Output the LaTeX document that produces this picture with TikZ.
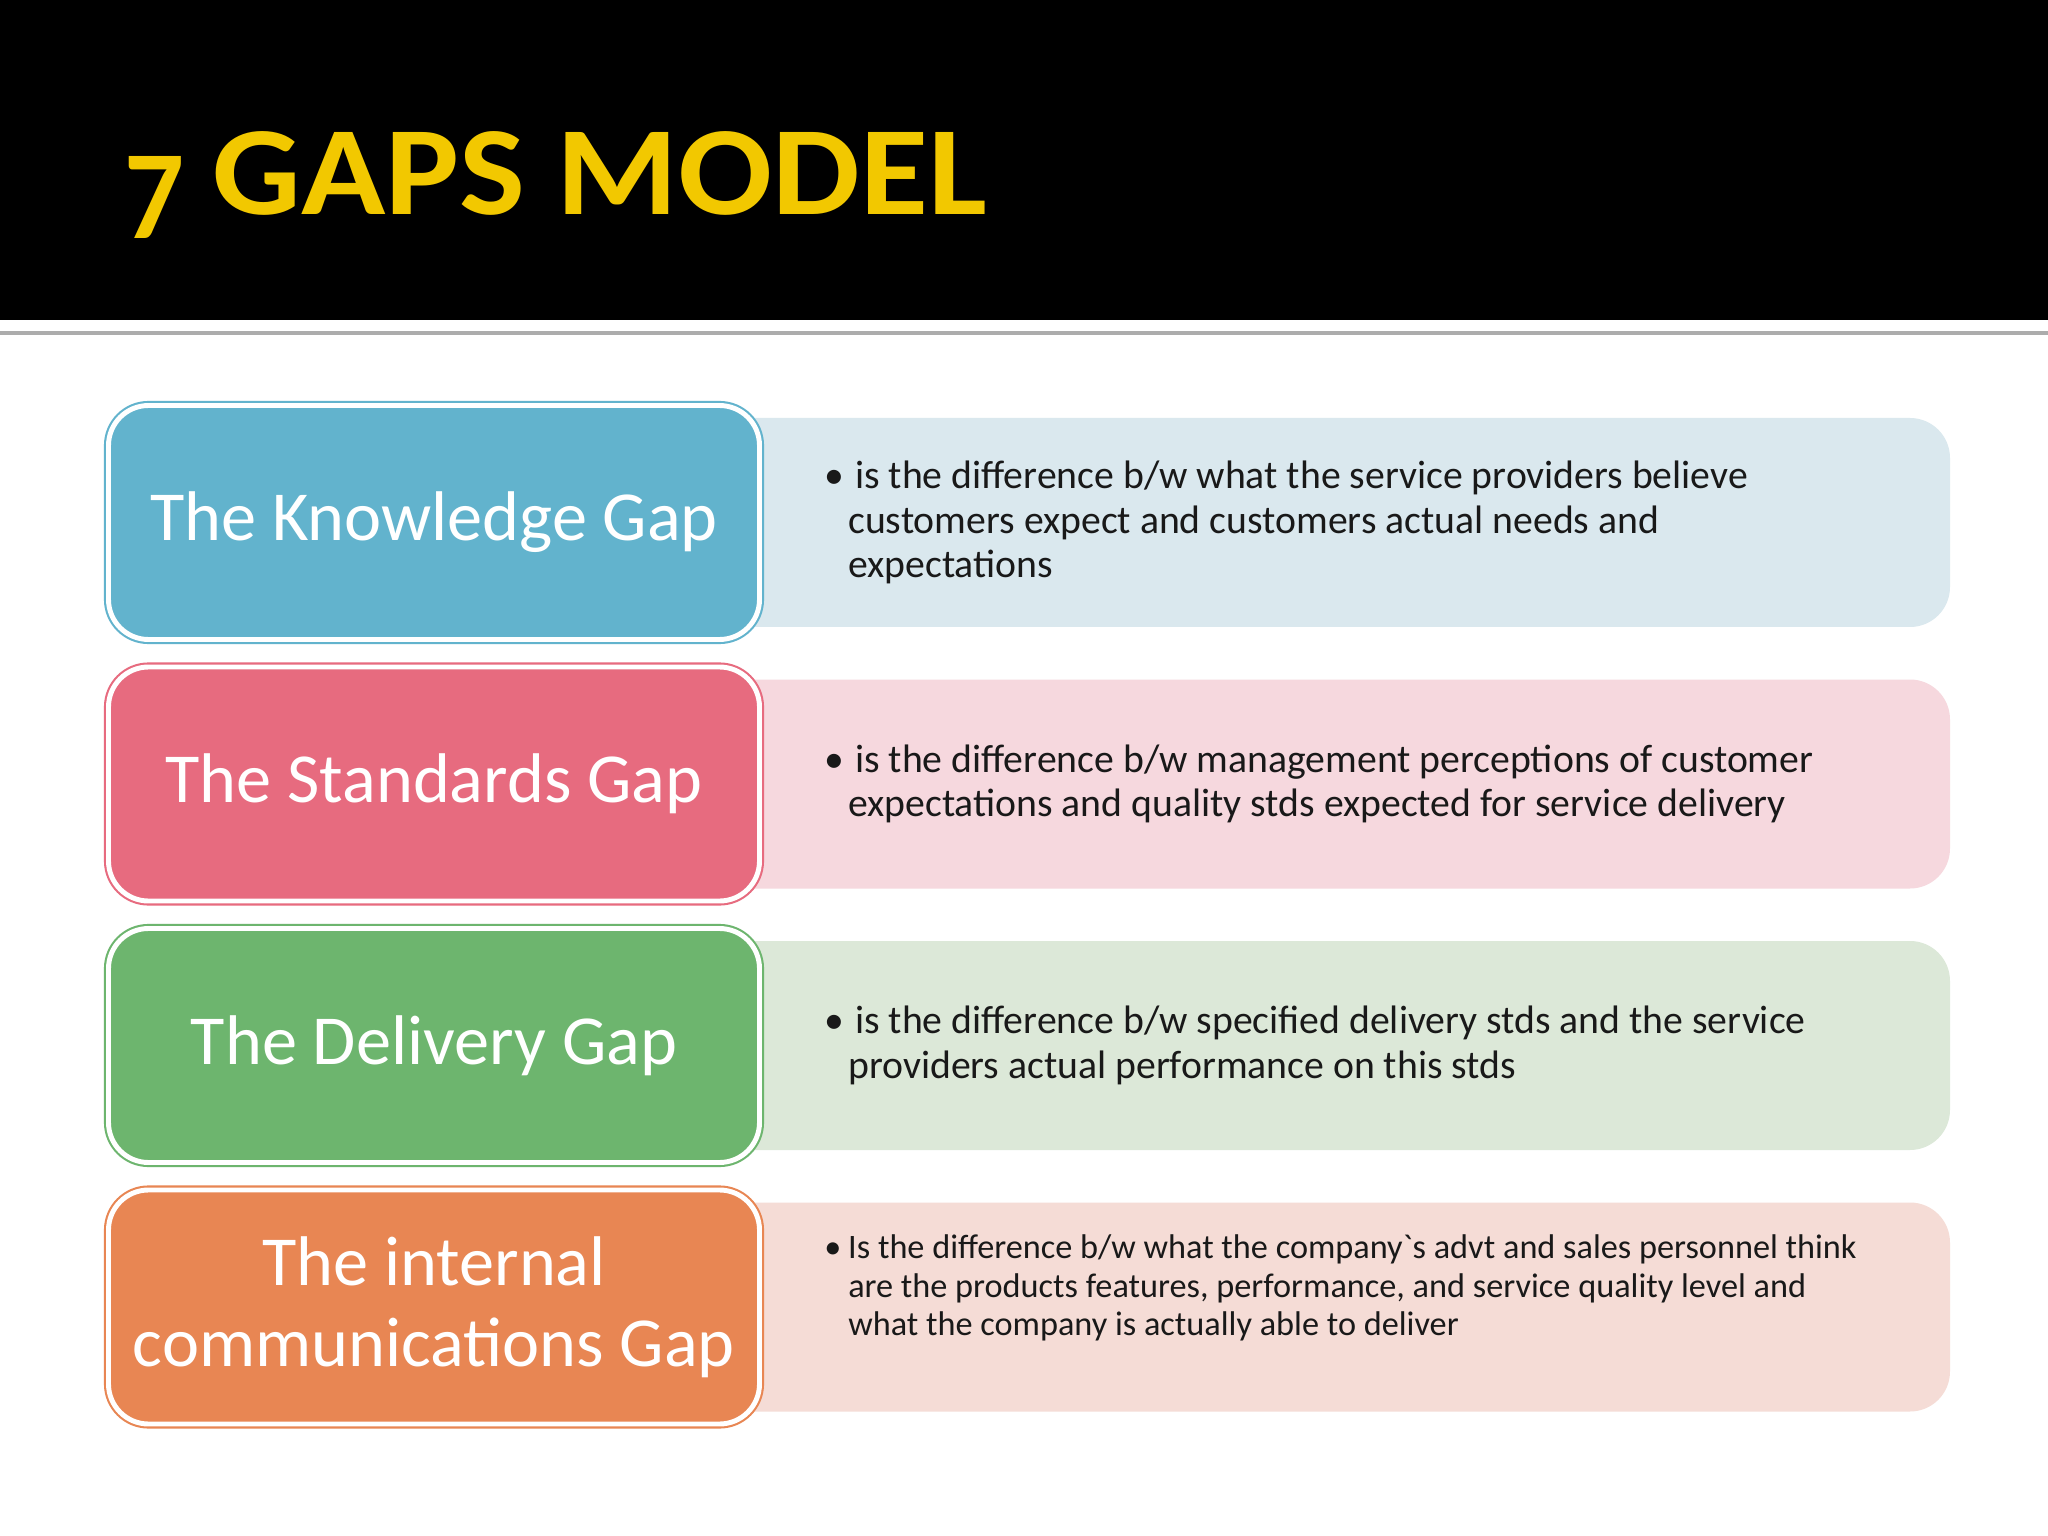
\documentclass[tikz,border=0pt]{standalone}
\usepackage{fontspec}
\setmainfont{Carlito}
\usetikzlibrary{positioning}
\definecolor{titlegold}{HTML}{F2C800}
\definecolor{knowfill}{HTML}{62B3CD}
\definecolor{knowlight}{HTML}{DAE8EE}
\definecolor{standfill}{HTML}{E76B7F}
\definecolor{standlight}{HTML}{F6D8DE}
\definecolor{delfill}{HTML}{6DB56E}
\definecolor{dellight}{HTML}{DCE8D8}
\definecolor{commfill}{HTML}{E88653}
\definecolor{commlight}{HTML}{F5DCD6}
\newcommand{\gapbul}{\makebox[0.31cm][l]{\textbullet}}
\newcommand{\gapind}{\hspace*{0.24cm}}

\begin{document}
\begin{tikzpicture}[node distance=2.615cm,
  gap/.style={rectangle,rounded corners=0.4cm,minimum width=6.51cm,minimum height=2.34cm,
    line width=0.6pt,double=white,double distance=1.4pt,text=white,align=center,
    font=\fontsize{20}{23}\selectfont},
  desc/.style={rectangle,rounded corners=0.4cm,minimum width=12.7cm,minimum height=2.09cm,inner sep=0pt},
  txt/.style={inner sep=0pt,align=left,anchor=west,text=black!90,font=\fontsize{11.3}{12.6}\selectfont}]

\useasboundingbox (0,0) rectangle (20.48,-15.36);
\fill[white] (0,0) rectangle (20.48,-15.36);
\fill[black] (0,0) rectangle (20.48,-3.2);
\draw[gray!65,line width=0.9pt] (0,-3.33) -- (20.48,-3.33);

\node[anchor=base west,inner sep=0pt,text=titlegold,font=\bfseries\fontsize{36}{40}\selectfont](title)
  at (1.24,-2.15){\scalebox{1.1}[1]{\raisebox{-6.7pt}{\scalebox{0.85}[1]{7}}\hspace{0.2em}GAPS MODEL}};

\node[desc,fill=knowlight](knowdesc) at (13.15,-5.225){};
\node[desc,fill=standlight](standdesc)[below of=knowdesc]{};
\node[desc,fill=dellight](deldesc)[below of=standdesc]{};
\node[desc,fill=commlight](commdesc)[below of=deldesc]{};

\node[gap,draw=knowfill,fill=knowfill](know) at (4.34,-5.225){The Knowledge Gap};
\node[gap,draw=standfill,fill=standfill](stand)[below of=know]{The Standards Gap};
\node[gap,draw=delfill,fill=delfill](del)[below of=stand]{The Delivery Gap};
\node[gap,draw=commfill,fill=commfill](comm)[below of=del]{The internal\\communications Gap};

\node[txt](knowtxt)[right=0.63cm of know.east]{\gapbul is the difference b/w what the service providers believe\\
  \gapind customers expect and customers actual needs and\\
  \gapind expectations};
\node[txt](standtxt)[right=0.63cm of stand.east]{\gapbul is the difference b/w management perceptions of customer\\
  \gapind expectations and quality stds expected for service delivery};
\node[txt](deltxt)[right=0.63cm of del.east]{\gapbul is the difference b/w specified delivery stds and the service\\
  \gapind providers actual performance on this stds};
\node[txt,font=\fontsize{9.75}{10.9}\selectfont](commtxt)[right=0.63cm of comm.east,yshift=0.19cm]{\makebox[0.24cm][l]{\textbullet}Is the difference b/w what the company\textasciigrave s advt and sales personnel think\\
  \gapind are the products features, performance, and service quality level and\\
  \gapind what the company is actually able to deliver};

\end{tikzpicture}
\end{document}
